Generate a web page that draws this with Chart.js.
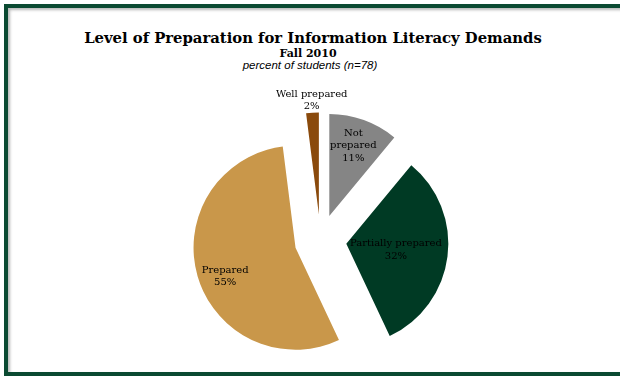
<!DOCTYPE html>
<html><head><meta charset="utf-8">
<script src="https://cdn.jsdelivr.net/npm/chart.js@4.4.1/dist/chart.umd.min.js"></script>
<style>
html,body{margin:0;padding:0;background:#fff;}
#wrap{position:relative;width:620px;height:376px;overflow:hidden;background:#fff;}
#frame{position:absolute;left:4px;top:4px;width:640px;height:364px;border:4px solid #0B4A32;box-shadow:inset 2px 2px 3px rgba(0,0,0,0.28);}
canvas{position:absolute;left:0;top:0;}
.t{position:absolute;left:0;width:620px;text-align:center;color:#000;white-space:nowrap;line-height:1;}
</style></head>
<body><div id="wrap"><div id="frame"></div>
<div class="t" style="left:3px;top:29px;font:bold 14.8px 'DejaVu Serif';">Level of Preparation for Information Literacy Demands</div>
<div class="t" style="left:-2px;top:47px;font:bold 11px 'DejaVu Serif';">Fall 2010</div>
<div class="t" style="top:59px;font:italic 11.5px 'Liberation Sans';">percent of students (n=78)</div>
<canvas id="c" width="620" height="376"></canvas>
</div>
<script>
const categories = ['Not prepared', 'Partially prepared', 'Prepared', 'Well prepared'];
const labelLines = [['Not', 'prepared'], ['Partially prepared'], ['Prepared'], ['Well prepared']];
const percentages = [11, 32, 55, 2];
const sliceColors = ['#858585', '#003A24', '#C9974A', '#8A4A0C'];
const labelRadius = [0.73, 0.49, 0.745, 1.12];
const labelTurnDeg = [-1, 0, -6, 0];
const EXPLODE = 26;

const explode = {
  id: 'explode',
  afterDatasetsUpdate(chart) {
    chart.getDatasetMeta(0).data.forEach(arc => {
      const mid = (arc.startAngle + arc.endAngle) / 2;
      arc.x += Math.cos(mid) * EXPLODE;
      arc.y += Math.sin(mid) * EXPLODE;
    });
  }
};

const sliceLabels = {
  id: 'sliceLabels',
  afterDatasetsDraw(chart) {
    const ctx = chart.ctx;
    const ds = chart.data.datasets[0];
    ctx.save();
    ctx.font = '10px "DejaVu Serif"';
    ctx.fillStyle = '#000';
    ctx.textAlign = 'center';
    ctx.textBaseline = 'middle';
    chart.getDatasetMeta(0).data.forEach((arc, i) => {
      const mid = (arc.startAngle + arc.endAngle) / 2 + labelTurnDeg[i] * Math.PI / 180;
      const r = arc.outerRadius * labelRadius[i];
      const x = arc.x + Math.cos(mid) * r;
      const y = arc.y + Math.sin(mid) * r;
      const lines = labelLines[i].concat([ds.data[i] + '%']);
      const lh = 12.5;
      const y0 = y - (lines.length - 1) * lh / 2;
      lines.forEach((l, k) => ctx.fillText(l, x, y0 + k * lh));
    });
    ctx.restore();
  }
};

new Chart(document.getElementById('c'), {
  type: 'pie',
  data: {
    labels: categories,
    datasets: [{
      data: percentages,
      backgroundColor: sliceColors,
      borderWidth: 0
    }]
  },
  options: {
    responsive: false,
    animation: false,
    radius: 102,
    layout: { padding: { left: 21, right: 0, top: 120, bottom: 15 } },
    plugins: { legend: { display: false }, tooltip: { enabled: false }, title: { display: false } }
  },
  plugins: [explode, sliceLabels]
});
</script>
</body></html>
